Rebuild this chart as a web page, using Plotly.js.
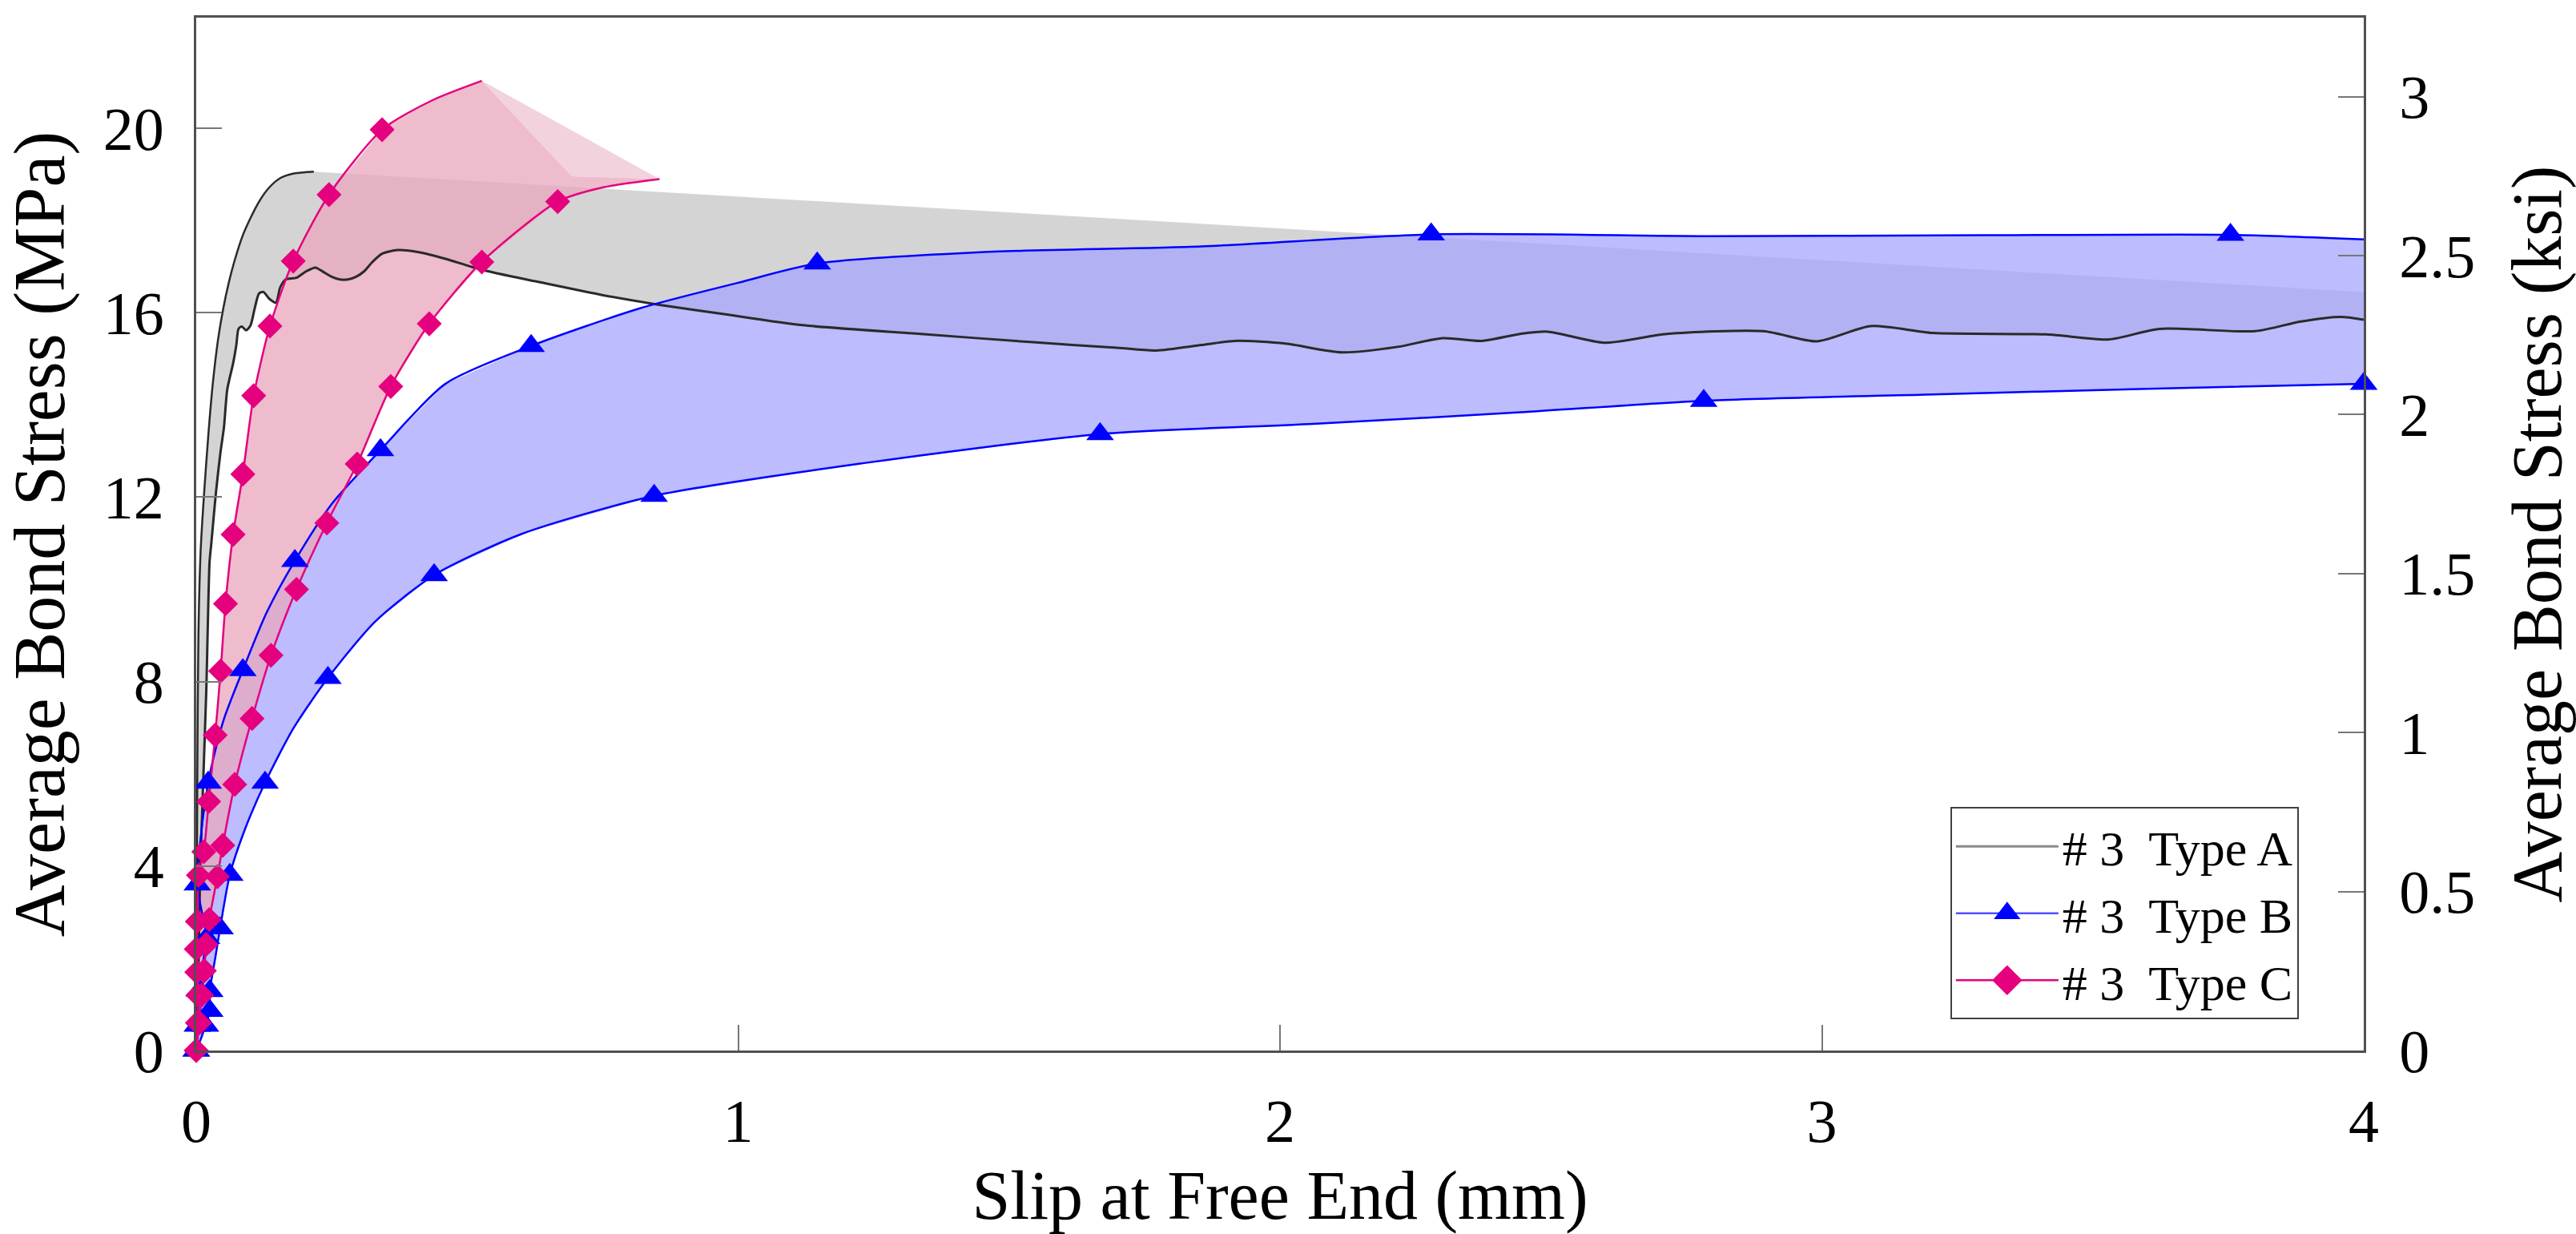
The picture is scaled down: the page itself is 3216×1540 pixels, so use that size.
<!DOCTYPE html>
<html>
<head>
<meta charset="utf-8">
<script src="https://cdn.plot.ly/plotly-3.0.1.min.js"></script>
<style>
html,body{margin:0;padding:0;background:#ffffff;}
#chart{width:3216px;height:1540px;}
</style>
</head>
<body>
<div id="chart"></div>
<script>
// ---------- data (slip in mm, bond stress in MPa) ----------
const MPA_PER_KSI = 6.89476;

// Type A: mean curve and upper envelope
const aMeanX = [0, 0.004, 0.007, 0.0128, 0.0187, 0.0246, 0.0276, 0.0365, 0.045, 0.051, 0.057, 0.062, 0.068, 0.074, 0.078, 0.084, 0.092, 0.1, 0.108, 0.116, 0.124, 0.135, 0.147, 0.155, 0.165, 0.185, 0.203, 0.22, 0.235, 0.25, 0.265, 0.28, 0.295, 0.31, 0.325, 0.343, 0.372, 0.413, 0.46, 0.527, 0.635, 0.751, 0.85, 0.974, 1.119, 1.337, 1.544, 1.699, 1.771, 1.855, 1.917, 2.01, 2.114, 2.217, 2.3, 2.372, 2.443, 2.494, 2.599, 2.714, 2.892, 2.991, 3.09, 3.205, 3.414, 3.529, 3.623, 3.8, 3.884, 3.957, 4.0];
const aMeanY = [0, 1.69, 3.75, 5.81, 7.87, 10.6, 10.97, 12.12, 13.0, 13.5, 14.32, 14.6, 14.9, 15.3, 15.65, 15.7, 15.62, 15.72, 16.1, 16.42, 16.45, 16.3, 16.22, 16.55, 16.72, 16.76, 16.9, 16.98, 16.88, 16.78, 16.72, 16.72, 16.78, 16.9, 17.1, 17.28, 17.36, 17.31, 17.17, 16.93, 16.66, 16.38, 16.18, 15.97, 15.73, 15.54, 15.36, 15.24, 15.18, 15.3, 15.39, 15.33, 15.14, 15.26, 15.45, 15.39, 15.54, 15.59, 15.35, 15.54, 15.6, 15.38, 15.71, 15.56, 15.53, 15.42, 15.65, 15.6, 15.81, 15.91, 15.85];
const aUpperX = [0, 0.001, 0.002, 0.004, 0.008, 0.014, 0.022, 0.03, 0.04, 0.05, 0.06, 0.07, 0.085, 0.1, 0.118, 0.135, 0.155, 0.18, 0.217];
const aUpperY = [0, 3.0, 6.0, 9.0, 10.8, 12.0, 13.3, 14.4, 15.4, 16.1, 16.65, 17.1, 17.65, 18.05, 18.45, 18.72, 18.92, 19.02, 19.06];
const aFillEndX = [4.0];
const aFillEndY = [16.45];

// Type B: upper and lower bounds
const bUpperX = [0, 0.002, 0.006, 0.012, 0.019, 0.002, 0.022, 0.05, 0.086, 0.13, 0.182, 0.25, 0.34, 0.46, 0.618, 0.82, 1.0, 1.146, 1.44, 1.855, 2.279, 2.8, 3.3, 3.754, 4.0];
const bUpperY = [0, 0.54, 1.3, 1.9, 2.44, 3.6, 5.81, 7.15, 8.25, 9.5, 10.62, 11.85, 13.02, 14.46, 15.28, 16.1, 16.65, 17.07, 17.31, 17.44, 17.7, 17.66, 17.68, 17.69, 17.59];
const bUpperMarkIdx = [0, 1, 2, 4, 5, 6, 8, 10, 12, 14, 17, 20, 23];
const bLowerX = [0, 0.01, 0.017, 0.025, 0.025, 0.035, 0.044, 0.062, 0.09, 0.127, 0.18, 0.243, 0.33, 0.439, 0.6, 0.845, 1.233, 1.668, 2.061, 2.443, 2.782, 3.205, 3.6, 4.0];
const bLowerY = [0, 0.3, 0.54, 0.86, 1.29, 2.0, 2.65, 3.81, 4.8, 5.81, 7.0, 8.08, 9.3, 10.31, 11.2, 12.03, 12.74, 13.37, 13.59, 13.84, 14.09, 14.23, 14.35, 14.46];
const bLowerMarkIdx = [0, 2, 3, 4, 6, 7, 9, 11, 13, 15, 17, 20, 23];

// Type C: upper and lower bounds
const cUpperX = [0, 0.002, 0.003, 0.001, 0.0, 0.002, 0.004, 0.014, 0.023, 0.035, 0.045, 0.054, 0.068, 0.086, 0.106, 0.136, 0.179, 0.245, 0.343, 0.436, 0.527];
const cUpperY = [0, 0.6, 1.2, 1.7, 2.2, 2.8, 3.8, 4.31, 5.4, 6.84, 8.23, 9.69, 11.19, 12.5, 14.2, 15.71, 17.12, 18.56, 19.97, 20.61, 21.03];
const cUpperMarkIdx = [0, 1, 2, 3, 4, 5, 6, 7, 8, 9, 10, 11, 12, 13, 14, 15, 16, 17, 18];
const cLowerX = [0, 0.006, 0.01, 0.015, 0.018, 0.024, 0.039, 0.049, 0.071, 0.103, 0.138, 0.185, 0.241, 0.297, 0.359, 0.43, 0.527, 0.667, 0.751, 0.855];
const cLowerY = [0, 0.6, 1.2, 1.73, 2.3, 2.84, 3.77, 4.45, 5.77, 7.2, 8.57, 10.0, 11.44, 12.72, 14.4, 15.76, 17.1, 18.41, 18.72, 18.9];
const cLowerMarkIdx = [0, 1, 2, 3, 4, 5, 6, 7, 8, 9, 10, 11, 12, 13, 14, 15, 16, 17];
const cFillCornerX = [0.693];
const cFillCornerY = [18.96];

// axes
const xRange = [0, 4];
const yRangeMPa = [0, 22.4];
const xTicks = [0, 1, 2, 3, 4];
const yTicksMPa = [0, 4, 8, 12, 16, 20];
const yTicksKsi = [0, 0.5, 1, 1.5, 2, 2.5, 3];
const yTickKsiText = ['0', '0.5', '1', '1.5', '2', '2.5', '3'];
const legendNames = ['# 3\u00a0 Type A', '# 3\u00a0 Type B', '# 3\u00a0 Type C'];

// ---------- styles ----------
const FONT = 'Liberation Serif, Times New Roman, serif';
const BLUE = '#0000ff';
const PINK = '#e5007e';
const rev = a => a.slice().reverse();
const pick = (arr, idx) => idx.map(i => arr[i]);
const last = a => a[a.length - 1];
const smooth = {shape: 'spline', smoothing: 0.7};

const traces = [];

// fills
traces.push({
  x: aUpperX.concat(aFillEndX, rev(aMeanX)),
  y: aUpperY.concat(aFillEndY, rev(aMeanY)),
  mode: 'lines', fill: 'toself', fillcolor: 'rgba(128,128,128,0.34)',
  line: {width: 0}, hoverinfo: 'skip', showlegend: false
});
traces.push({
  x: bUpperX.concat(rev(bLowerX)),
  y: bUpperY.concat(rev(bLowerY)),
  mode: 'lines', fill: 'toself', fillcolor: 'rgba(164,164,255,0.74)',
  line: {width: 0}, hoverinfo: 'skip', showlegend: false
});
traces.push({
  x: cUpperX.concat(cFillCornerX, rev(cLowerX)),
  y: cUpperY.concat(cFillCornerY, rev(cLowerY)),
  mode: 'lines', fill: 'toself', fillcolor: 'rgba(232,167,188,0.76)',
  line: {width: 0}, hoverinfo: 'skip', showlegend: false
});
traces.push({
  x: [last(cUpperX), last(cLowerX), cFillCornerX[0]],
  y: [last(cUpperY), last(cLowerY), cFillCornerY[0]],
  mode: 'lines', fill: 'toself', fillcolor: 'rgba(236,192,208,0.72)',
  line: {width: 0}, hoverinfo: 'skip', showlegend: false
});

// lines
traces.push({x: aUpperX, y: aUpperY, mode: 'lines', line: Object.assign({color: '#2a2a2a', width: 2.5}, smooth), showlegend: false});
traces.push({x: aMeanX, y: aMeanY, mode: 'lines', line: Object.assign({color: '#2a2a2a', width: 3}, smooth), showlegend: false});
traces.push({x: bUpperX, y: bUpperY, mode: 'lines', line: Object.assign({color: BLUE, width: 2.5}, smooth), showlegend: false});
traces.push({x: bLowerX, y: bLowerY, mode: 'lines', line: Object.assign({color: BLUE, width: 2.5}, smooth), showlegend: false});
traces.push({x: cUpperX, y: cUpperY, mode: 'lines', line: Object.assign({color: PINK, width: 2.5}, smooth), showlegend: false});
traces.push({x: cLowerX, y: cLowerY, mode: 'lines', line: Object.assign({color: PINK, width: 2.5}, smooth), showlegend: false});

// markers
const triMarker = {symbol: 'triangle-up', size: 30, color: BLUE, line: {width: 0}};
const diaMarker = {symbol: 'diamond', size: 24, color: PINK, line: {width: 0}};
traces.push({x: pick(bUpperX, bUpperMarkIdx), y: pick(bUpperY, bUpperMarkIdx), mode: 'markers', marker: triMarker, showlegend: false, cliponaxis: false});
traces.push({x: pick(bLowerX, bLowerMarkIdx), y: pick(bLowerY, bLowerMarkIdx), mode: 'markers', marker: triMarker, showlegend: false, cliponaxis: false});
traces.push({x: pick(cUpperX, cUpperMarkIdx), y: pick(cUpperY, cUpperMarkIdx), mode: 'markers', marker: diaMarker, showlegend: false, cliponaxis: false});
traces.push({x: pick(cLowerX, cLowerMarkIdx), y: pick(cLowerY, cLowerMarkIdx), mode: 'markers', marker: diaMarker, showlegend: false, cliponaxis: false});

// legend entries
traces.push({x: [null], y: [null], name: legendNames[0], legendgroup: 'A', mode: 'lines', line: {color: '#8a8a8a', width: 3}});
traces.push({x: [null], y: [null], name: legendNames[1], legendgroup: 'B', mode: 'lines+markers', line: {color: '#5050ff', width: 2.5}, marker: triMarker});
traces.push({x: [null], y: [null], name: legendNames[2], legendgroup: 'C', mode: 'lines+markers', line: {color: PINK, width: 2.5}, marker: diaMarker});

// secondary (ksi) axis anchor trace
traces.push({x: [null], y: [null], yaxis: 'y2', mode: 'lines', showlegend: false, hoverinfo: 'skip'});

const axisCommon = {
  showgrid: false, zeroline: false, showline: true, linecolor: '#505050', linewidth: 3,
  ticks: 'inside', ticklen: 32, tickwidth: 2, tickcolor: '#777777',
  tickfont: {family: FONT, size: 76, color: '#000'}
};

const layout = {
  width: 3216, height: 1540,
  margin: {l: 245, r: 265, t: 22, b: 229, pad: 0},
  paper_bgcolor: '#ffffff', plot_bgcolor: '#ffffff',
  font: {family: FONT, color: '#000'},
  showlegend: true,
  legend: {
    x: 0.970, xanchor: 'right', y: 0.030, yanchor: 'bottom',
    bgcolor: '#ffffff', bordercolor: '#404040', borderwidth: 2,
    font: {family: FONT, size: 62, color: '#000'},
    tracegroupgap: 0, itemsizing: 'trace', itemwidth: 128
  },
  xaxis: Object.assign({}, axisCommon, {
    range: xRange, tickvals: xTicks, ticktext: xTicks.map(String), mirror: true,
    ticklabelstandoff: 20,
    title: {text: 'Slip at Free End (mm)', font: {family: FONT, size: 86, color: '#000'}, standoff: 50}
  }),
  yaxis: Object.assign({}, axisCommon, {
    range: yRangeMPa, tickvals: yTicksMPa, ticktext: yTicksMPa.map(String), mirror: true,
    ticklabelstandoff: 22,
    title: {text: 'Average Bond Stress (MPa)', font: {family: FONT, size: 90, color: '#000'}, standoff: 36}
  }),
  yaxis2: Object.assign({}, axisCommon, {
    overlaying: 'y', side: 'right', anchor: 'x',
    range: yRangeMPa.map(v => v / MPA_PER_KSI), tickvals: yTicksKsi, ticktext: yTickKsiText,
    ticklabelstandoff: 26,
    title: {text: 'Average Bond Stress (ksi)', font: {family: FONT, size: 88, color: '#000'}, standoff: 48}
  })
};

Plotly.newPlot('chart', traces, layout, {displayModeBar: false, staticPlot: true}).then(function () {
  // enlarge legend marker glyphs to match the plotted markers
  document.querySelectorAll('.legend path.scatterpts').forEach(function (p) {
    const t = p.getAttribute('transform') || '';
    p.setAttribute('transform', t + ' scale(1.8)');
  });
});
</script>
</body>
</html>
